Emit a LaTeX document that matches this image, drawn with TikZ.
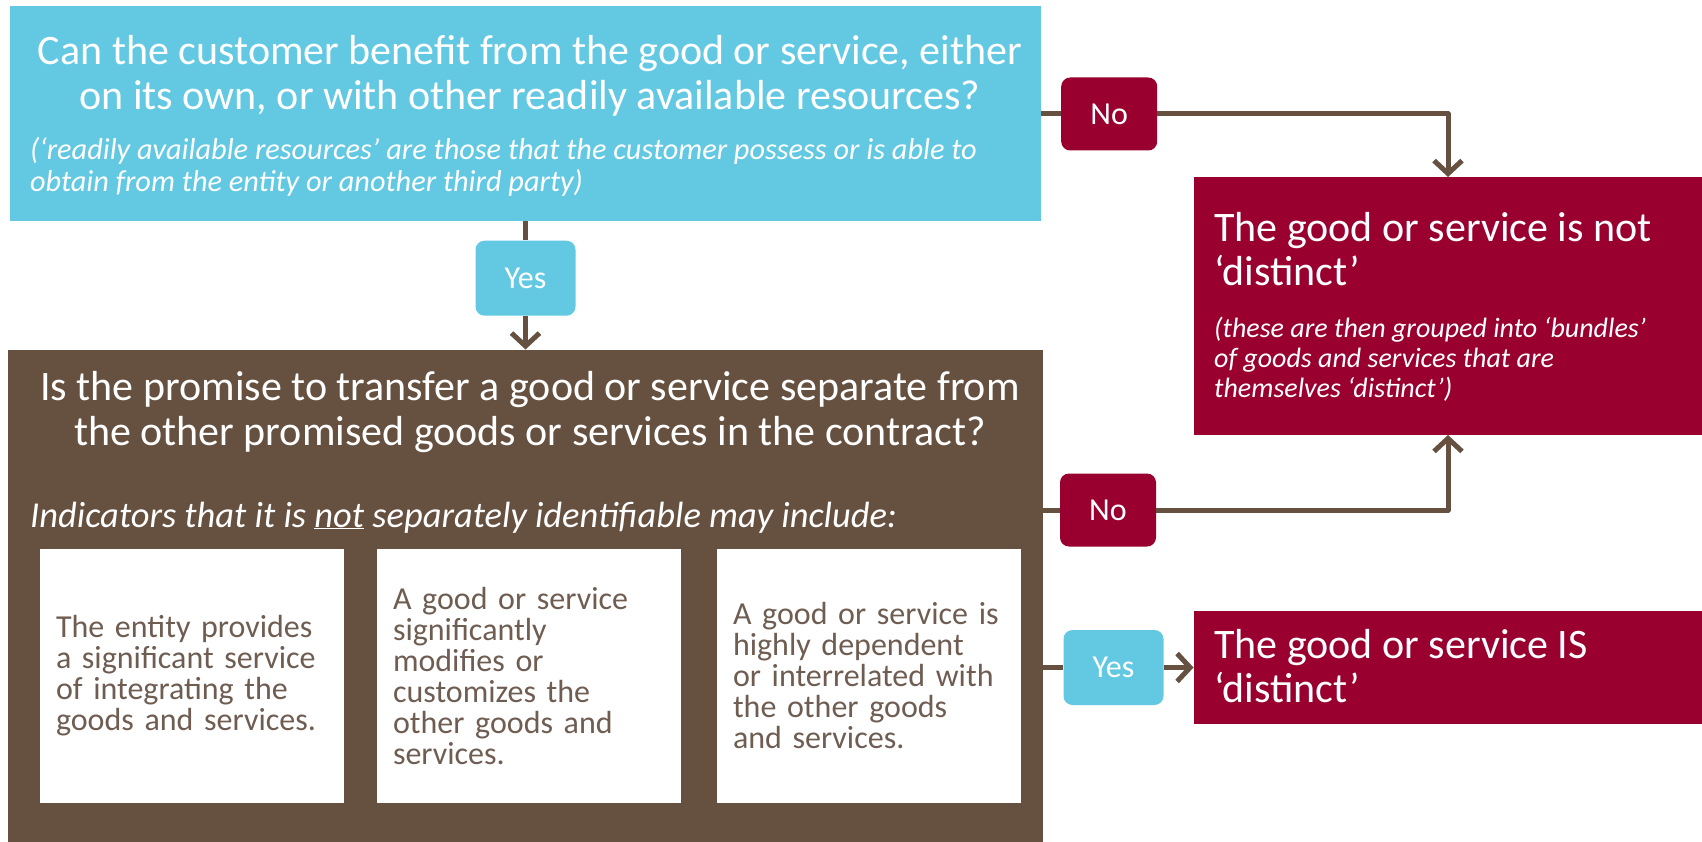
\documentclass[tikz,border=0pt]{standalone}
\usepackage{fontspec}
\setmainfont{Carlito}
\usetikzlibrary{arrows.meta,positioning}

\definecolor{qblue}{HTML}{63C9E3}
\definecolor{qbrown}{HTML}{665040}
\definecolor{qred}{HTML}{990030}
\definecolor{qgrey}{HTML}{6F5D52}

\begin{document}
\begin{tikzpicture}[x=1pt, y=-1pt,
    box/.style={inner sep=0pt, outer sep=0pt},
    headtext/.style={text=white, inner sep=0pt, font=\fontsize{42}{45}\selectfont, align=center},
    redhead/.style={text=white, inner sep=0pt, font=\fontsize{42}{44}\selectfont, align=left},
    notetext/.style={text=white, inner sep=0pt, font=\fontsize{30.3}{32}\selectfont\itshape, align=left},
    rednote/.style={text=white, inner sep=0pt, font=\fontsize{28}{30}\selectfont\itshape, align=left},
    indicator/.style={text=white, inner sep=0pt, font=\fontsize{36.5}{40}\selectfont\itshape},
    cardbox/.style={fill=white, text=qgrey, minimum width=304pt, minimum height=254pt,
        text width=272pt, inner xsep=16pt, align=left, font=\fontsize{32}{31}\selectfont},
    nolabel/.style={fill=qred, text=white, rounded corners=9pt, inner sep=0pt,
        minimum width=96pt, minimum height=73pt, font=\fontsize{32}{34}\selectfont},
    yeslabel/.style={nolabel, fill=qblue, minimum width=100pt, minimum height=75pt},
    flow/.style={draw=qbrown, line width=5pt, line join=round,
        -{Straight Barb[length=13pt,width=28pt]}}
]
\useasboundingbox (0,0) rectangle (1702,842);

% first question
\node[box, fill=qblue, minimum width=1031pt, minimum height=215pt] (q1) at (525.5,114) {};
\node[headtext, anchor=base] (q1head) at (530,110)
    {Can the customer benefit from the good or service, either\\on its own, or with other readily available resources?};
\node[notetext, anchor=base west] (q1note) at (30,192)
    {(‘readily available resources’ are those that the customer possess or is able to\\obtain from the entity or another third party)};

% second question with the three indicators
\node[box, fill=qbrown, minimum width=1035pt, minimum height=493pt] (q2) at (525.5,596) {};
\node[headtext, anchor=base] (q2head) at (530,445)
    {Is the promise to transfer a good or service separate from\\the other promised goods or services in the contract?};
\node[indicator, anchor=base west] (q2ind) at (30,527)
    {Indicators that it is \underline{not} separately identifiable may include:};
\node[cardbox] (card1) at (192,676)
    {The entity provides\\a significant service\\of integrating the\\goods and services.};
\node[cardbox] (card2) at (529,676)
    {A good or service\\significantly\\modifies or\\customizes the\\other goods and\\services.};
\node[cardbox] (card3) at (869,676)
    {A good or service~is\\highly dependent\\or interrelated~with\\the other goods\\and services.};

% outcomes
\node[box, fill=qred, minimum width=509pt, minimum height=258pt] (notdistinct) at (1448,306) {};
\node[redhead, anchor=base west] (ndhead) at (1214,286)
    {The good or service is not\\‘distinct’};
\node[rednote, anchor=base west] (ndnote) at (1214,397)
    {(these are then grouped into ‘bundles’\\of goods and services that are\\themselves ‘distinct’)};
\node[box, fill=qred, minimum width=509pt, minimum height=113pt] (isdistinct) at (1448,667.5) {};
\node[redhead, anchor=base west] (idhead) at (1214,702)
    {The good or service IS\\‘distinct’};

% answers
\node[nolabel, right=20pt of q1] (no1) {No};
\node[nolabel] (no2) at (1108,510) {No};
\node[yeslabel, below=19pt of q1] (yes1) {Yes};
\node[yeslabel] (yes2) at (1113.5,667.5) {Yes};

% arrows
\draw[flow] (q1) -- (yes1) -- (q2);
\draw[flow] (q1.east) -- (no1) -| (notdistinct);
\draw[flow] (q2.east |- no2) -- (no2) -| (notdistinct);
\draw[flow] (q2.east |- yes2) -- (yes2) -- (isdistinct);
\end{tikzpicture}
\end{document}
